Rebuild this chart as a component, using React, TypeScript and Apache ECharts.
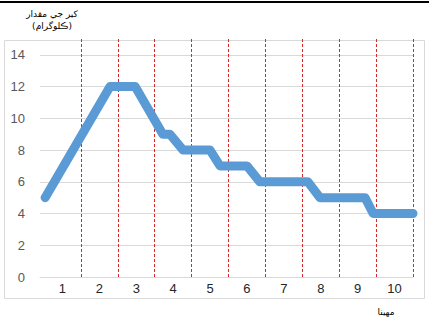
import React, { useEffect, useRef } from "react";
import * as echarts from "echarts";

const months = ["1", "2", "3", "4", "5", "6", "7", "8", "9", "10"];
const pathX = [0.03, 1.79, 2.47, 3.22, 3.41, 3.77, 4.5, 4.77, 5.5, 5.85, 7.15, 7.48, 8.7, 8.92, 10];
const pathY = [5, 12, 12, 9, 9, 8, 8, 7, 7, 6, 6, 5, 5, 4, 4];
const yTitle1 = "کیر جي مقدار";
const yTitle2 = "(ڪلوگرام)";
const xTitle = "مهينا";

export default function App() {
  const ref = useRef<HTMLDivElement>(null);
  useEffect(() => {
    if (!ref.current) return;
    const chart = echarts.init(ref.current, null, { renderer: "svg" });
    const data = pathX.map((x, i) => [x, pathY[i]]);
    chart.setOption({
      animation: false,
      backgroundColor: "#ffffff",
      grid: [
        { left: 40, right: 16, top: 39, bottom: 50 },
        { left: 44, right: 16, top: 39, bottom: 50 },
      ],
      xAxis: [
        {
          type: "value",
          gridIndex: 0,
          min: 0,
          max: 10,
          axisLine: { show: true, onZero: false, lineStyle: { color: "#d9d9d9", width: 1 } },
          axisTick: { show: false },
          axisLabel: { show: false },
          splitLine: { show: false },
        },
        {
          type: "category",
          gridIndex: 1,
          data: months,
          boundaryGap: true,
          position: "bottom",
          axisLine: { show: false },
          axisTick: { show: false },
          splitLine: { show: false },
          axisLabel: { color: "#262626", fontSize: 13, margin: 5, fontFamily: "Liberation Sans" },
        },
        {
          type: "value",
          gridIndex: 1,
          min: 0,
          max: 10,
          interval: 1,
          position: "bottom",
          axisLine: { show: false },
          axisTick: { show: false },
          axisLabel: { show: false },
          splitLine: {
            show: true,
            showMinLine: false,
            showMaxLine: true,
            lineStyle: { color: "#d42a2a", type: [3, 2], width: 1 },
          },
        },
      ],
      yAxis: [
        {
          type: "value",
          gridIndex: 0,
          min: 0,
          max: 15,
          interval: 2,
          axisLine: { show: false },
          axisTick: { show: false },
          axisLabel: {
            color: "#595959",
            fontSize: 13,
            margin: 15,
            showMaxLabel: false,
            fontFamily: "Liberation Sans",
          },
          splitLine: { show: true, showMaxLine: false, lineStyle: { color: "#d9d9d9", width: 1 } },
        },
        {
          type: "value",
          gridIndex: 1,
          min: 0,
          max: 15,
          interval: 1,
          show: false,
          splitLine: { show: false },
        },
      ],
      series: [
        {
          type: "line",
          xAxisIndex: 2,
          yAxisIndex: 1,
          data,
          symbol: "none",
          z: 5,
          lineStyle: { color: "#5b9bd5", width: 9, cap: "round", join: "round" },
        },
      ],
      graphic: [
        { type: "rect", shape: { x: 0, y: 1, width: 429, height: 2 }, style: { fill: "#000000" }, silent: true },
        {
          type: "rect",
          shape: { x: 4.5, y: 40.5, width: 420, height: 258 },
          style: { fill: "none", stroke: "#d9d9d9", lineWidth: 1 },
          silent: true,
          z: -1,
        },
        {
          type: "text",
          x: 52,
          y: 14,
          style: { text: yTitle1, fontSize: 9, fontFamily: "DejaVu Sans", fill: "#000", align: "center", verticalAlign: "middle" },
        },
        {
          type: "text",
          x: 52,
          y: 26,
          style: { text: yTitle2, fontSize: 9, fontFamily: "DejaVu Sans", fill: "#000", align: "center", verticalAlign: "middle" },
        },
        {
          type: "text",
          x: 386,
          y: 312,
          style: { text: xTitle, fontSize: 9, fontFamily: "DejaVu Sans", fill: "#000", align: "center", verticalAlign: "middle" },
        },
      ],
    });
    return () => chart.dispose();
  }, []);
  return <div ref={ref} style={{ position: "fixed", left: 0, top: 0, width: 429, height: 327 }} />;
}
